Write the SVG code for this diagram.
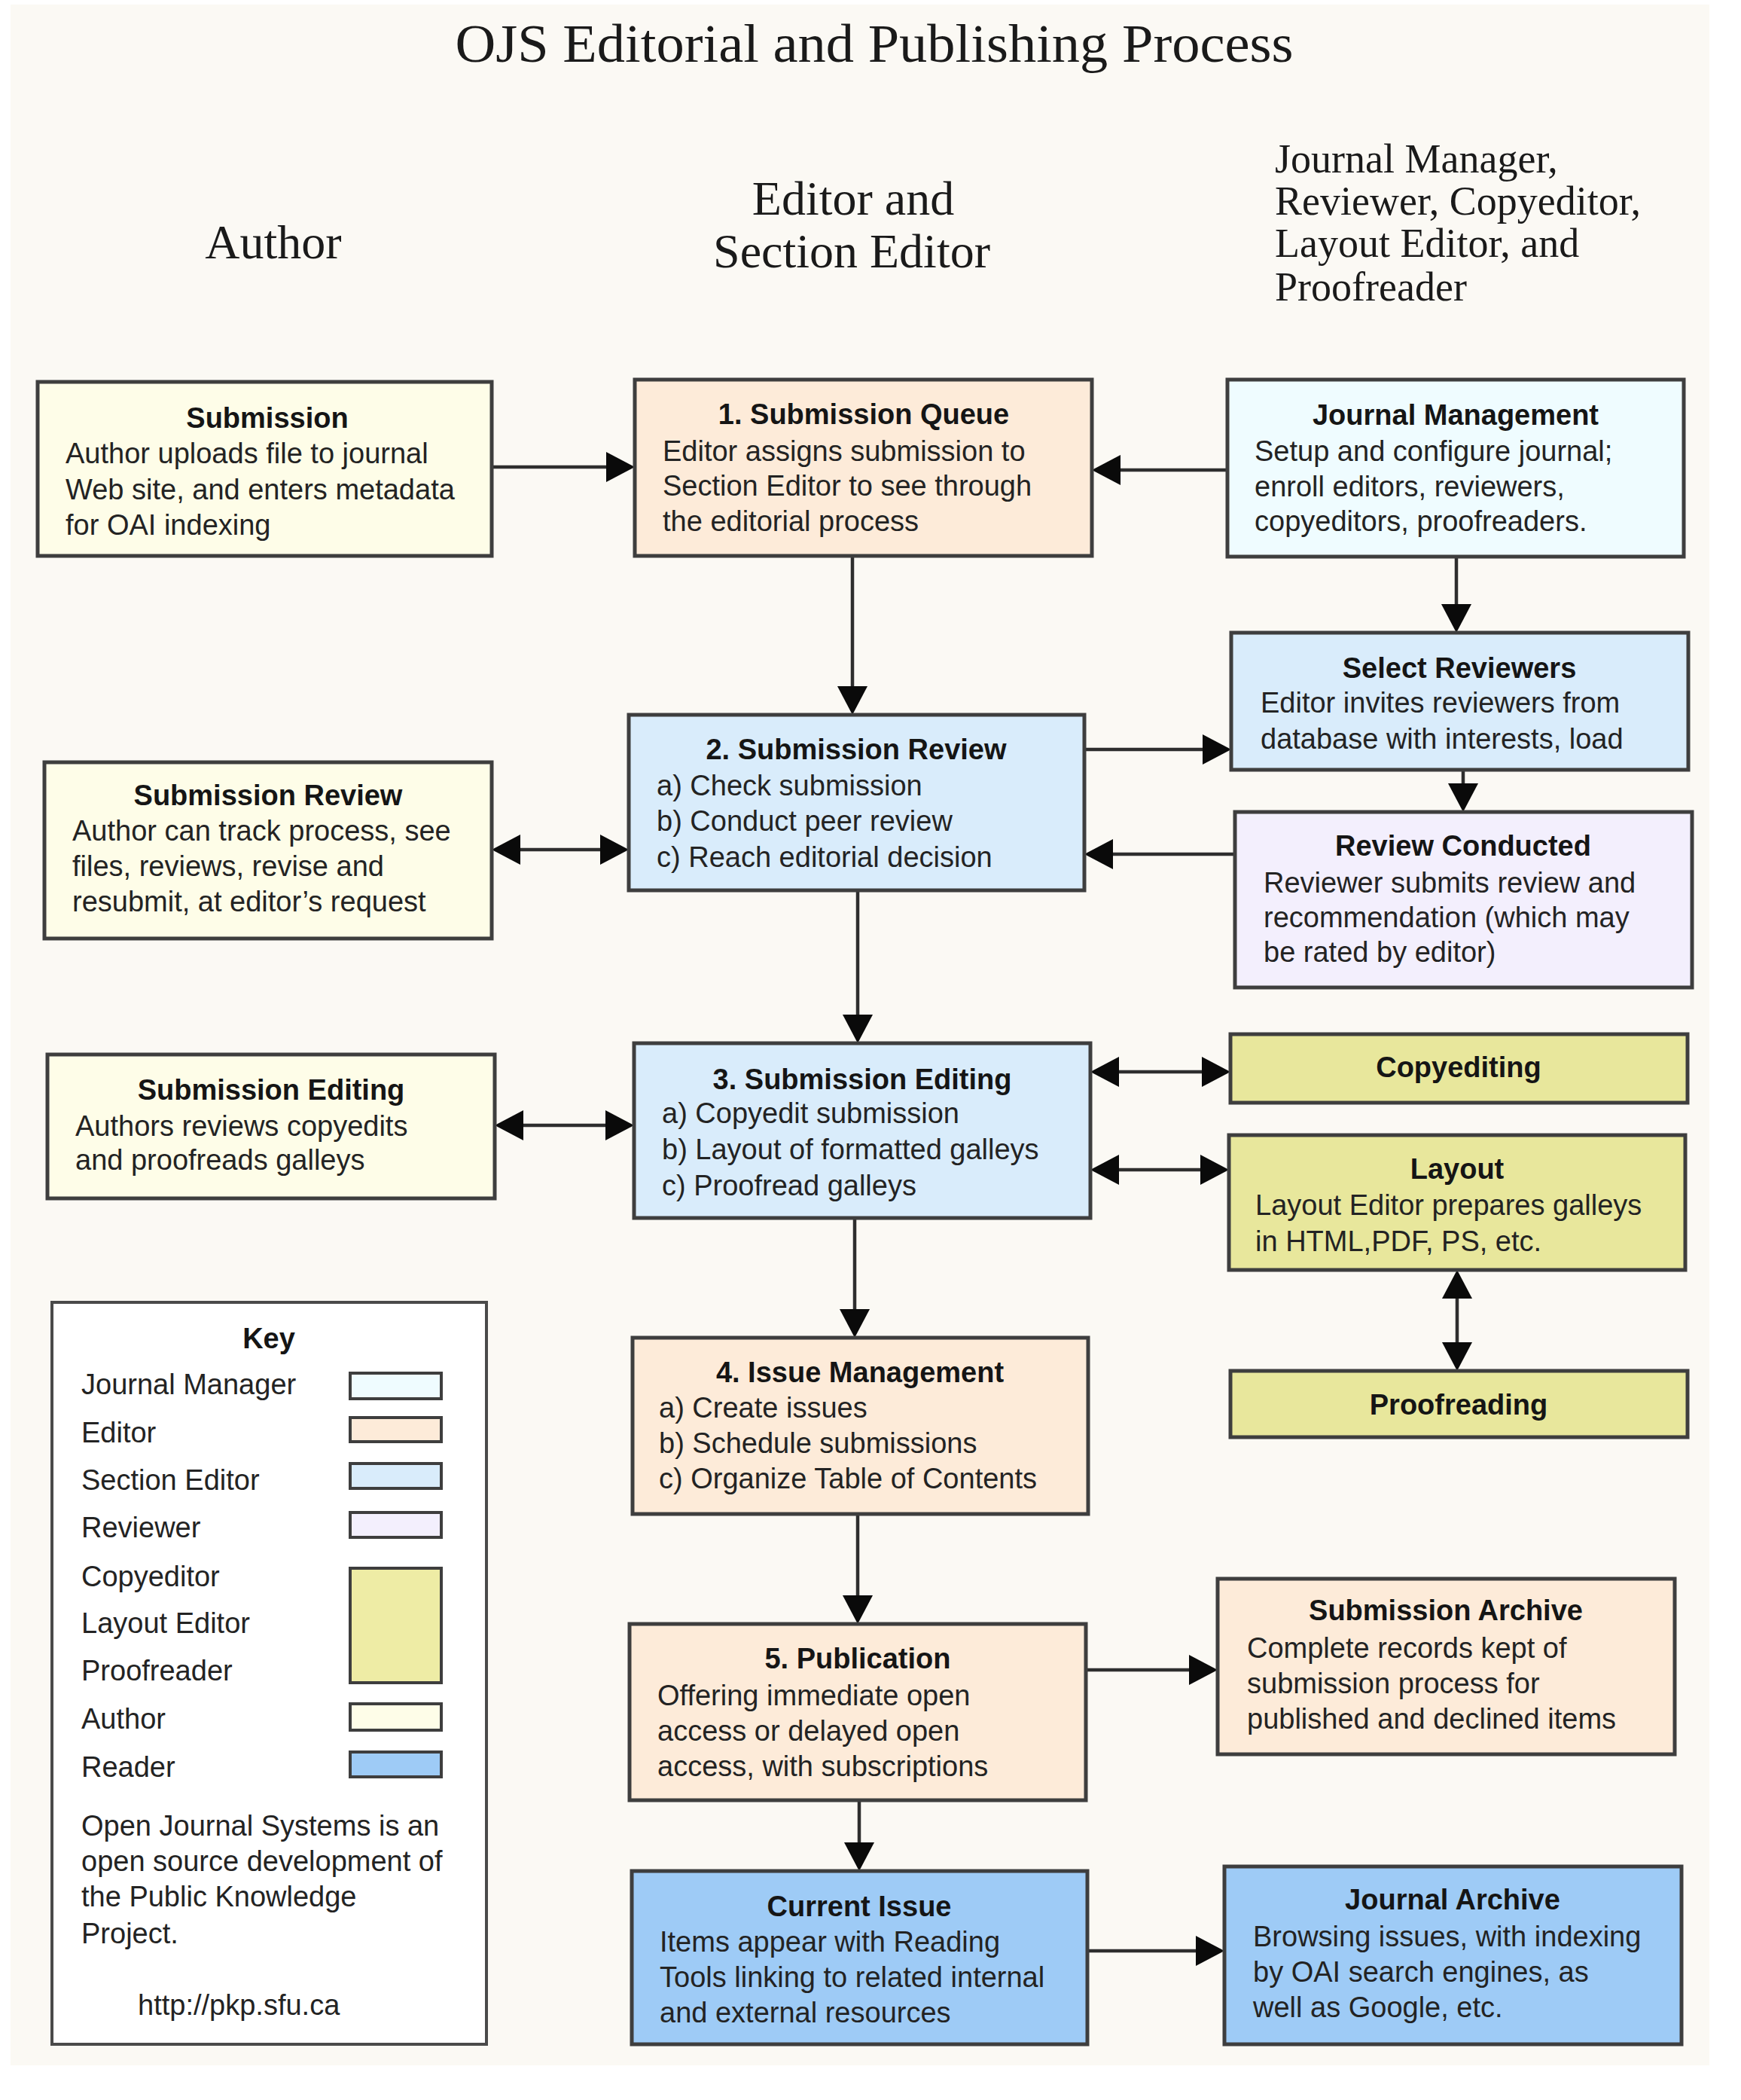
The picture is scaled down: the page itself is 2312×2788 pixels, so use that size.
<svg xmlns="http://www.w3.org/2000/svg" width="2312" height="2788" viewBox="0 0 2312 2788">
<defs>
<style>
.bx{stroke:#3e3e3e;stroke-width:5}
.au{fill:#fefde8}
.ed{fill:#fdebd9}
.jm{fill:#effcff}
.se{fill:#d9ecfb}
.rv{fill:#f3effd}
.cy{fill:#e8e79c}
.rd{fill:#9ecbf6}
text{font-family:"Liberation Sans",Arial,sans-serif;font-size:38px;fill:#232323}
.t{font-weight:bold;text-anchor:middle;fill:#151515}
text.h{font-family:"Liberation Serif","Times New Roman",serif;fill:#1a1a1a}
text.h1{font-size:72px}
text.h2{font-size:64px}
text.h3{font-size:54px}
.sw{stroke:#3e3e3e;stroke-width:4}
.cn line{stroke:#2e2e2e;stroke-width:4.5}
.one{marker-end:url(#ah)}
.two{marker-end:url(#ah);marker-start:url(#ah)}
</style>
<marker id="ah" markerUnits="userSpaceOnUse" markerWidth="38" markerHeight="40" viewBox="0 0 38 40" refX="28" refY="20" orient="auto-start-reverse">
<path d="M0,0 L38,20 L0,40 z" fill="#0a0a0a"/>
</marker>
</defs>
<rect x="0" y="0" width="2312" height="2788" fill="#ffffff"/>
<rect x="14" y="6" width="2256" height="2736" fill="#fbf9f4"/>

<g id="headers">
<text class="h h1" x="1161" y="82" text-anchor="middle" textLength="1113" lengthAdjust="spacingAndGlyphs">OJS Editorial and Publishing Process</text>
<text class="h h2" x="363" y="343" text-anchor="middle">Author</text>
<text class="h h2" x="1133" y="285" text-anchor="middle">Editor and</text>
<text class="h h2" x="1131" y="355" text-anchor="middle">Section Editor</text>
<text class="h h3" x="1693" y="229">Journal Manager,</text>
<text class="h h3" x="1693" y="285">Reviewer, Copyeditor,</text>
<text class="h h3" x="1693" y="341">Layout Editor, and</text>
<text class="h h3" x="1693" y="399">Proofreader</text>
</g>

<g class="cn" id="connectors">
<line class="one" x1="653" y1="620" x2="833" y2="620"/>
<line class="one" x1="1630" y1="624" x2="1460" y2="624"/>
<line class="one" x1="1132" y1="738" x2="1132" y2="939"/>
<line class="one" x1="1934" y1="739" x2="1934" y2="830"/>
<line class="one" x1="1440" y1="995" x2="1625" y2="995"/>
<line class="one" x1="1943" y1="1022" x2="1943" y2="1068"/>
<line class="one" x1="1640" y1="1134" x2="1450" y2="1134"/>
<line class="two" x1="663" y1="1128" x2="825" y2="1128"/>
<line class="one" x1="1139" y1="1182" x2="1139" y2="1375"/>
<line class="two" x1="667" y1="1494" x2="832" y2="1494"/>
<line class="two" x1="1458" y1="1423" x2="1624" y2="1423"/>
<line class="two" x1="1458" y1="1553" x2="1622" y2="1553"/>
<line class="two" x1="1935" y1="1696" x2="1935" y2="1810"/>
<line class="one" x1="1135" y1="1617" x2="1135" y2="1766"/>
<line class="one" x1="1139" y1="2010" x2="1139" y2="2146"/>
<line class="one" x1="1442" y1="2217" x2="1607" y2="2217"/>
<line class="one" x1="1141" y1="2390" x2="1141" y2="2474"/>
<line class="one" x1="1444" y1="2590" x2="1616" y2="2590"/>
</g>

<g id="submission">
<rect class="bx au" x="50" y="507" width="603" height="231"/>
<text class="t" x="355" y="568">Submission</text>
<text x="87" y="615">Author uploads file to journal</text>
<text x="87" y="663">Web site, and enters metadata</text>
<text x="87" y="710">for OAI indexing</text>
</g>

<g id="submission-queue">
<rect class="bx ed" x="843" y="504" width="607" height="234"/>
<text class="t" x="1147" y="563">1. Submission Queue</text>
<text x="880" y="612">Editor assigns submission to</text>
<text x="880" y="658">Section Editor to see through</text>
<text x="880" y="705">the editorial process</text>
</g>

<g id="journal-management">
<rect class="bx jm" x="1630" y="504" width="606" height="235"/>
<text class="t" x="1933" y="564">Journal Management</text>
<text x="1666" y="612">Setup and configure journal;</text>
<text x="1666" y="659">enroll editors, reviewers,</text>
<text x="1666" y="705">copyeditors, proofreaders.</text>
</g>

<g id="select-reviewers">
<rect class="bx se" x="1635" y="840" width="607" height="182"/>
<text class="t" x="1938" y="900">Select Reviewers</text>
<text x="1674" y="946">Editor invites reviewers from</text>
<text x="1674" y="994">database with interests, load</text>
</g>

<g id="submission-review">
<rect class="bx se" x="835" y="949" width="605" height="233"/>
<text class="t" x="1137" y="1008">2. Submission Review</text>
<text x="872" y="1056">a) Check submission</text>
<text x="872" y="1103">b) Conduct peer review</text>
<text x="872" y="1151">c) Reach editorial decision</text>
</g>

<g id="author-submission-review">
<rect class="bx au" x="59" y="1012" width="594" height="234"/>
<text class="t" x="356" y="1069">Submission Review</text>
<text x="96" y="1116">Author can track process, see</text>
<text x="96" y="1163">files, reviews, revise and</text>
<text x="96" y="1210">resubmit, at editor’s request</text>
</g>

<g id="review-conducted">
<rect class="bx rv" x="1640" y="1078" width="607" height="233"/>
<text class="t" x="1943" y="1136">Review Conducted</text>
<text x="1678" y="1185">Reviewer submits review and</text>
<text x="1678" y="1231">recommendation (which may</text>
<text x="1678" y="1277">be rated by editor)</text>
</g>

<g id="submission-editing">
<rect class="bx se" x="842" y="1385" width="606" height="232"/>
<text class="t" x="1145" y="1446">3. Submission Editing</text>
<text x="879" y="1491">a) Copyedit submission</text>
<text x="879" y="1539">b) Layout of formatted galleys</text>
<text x="879" y="1587">c) Proofread galleys</text>
</g>

<g id="author-submission-editing">
<rect class="bx au" x="63" y="1400" width="594" height="191"/>
<text class="t" x="360" y="1460">Submission Editing</text>
<text x="100" y="1508">Authors reviews copyedits</text>
<text x="100" y="1553">and proofreads galleys</text>
</g>

<g id="copyediting">
<rect class="bx cy" x="1634" y="1373" width="607" height="91"/>
<text class="t" x="1937" y="1430">Copyediting</text>
</g>

<g id="layout">
<rect class="bx cy" x="1632" y="1507" width="606" height="179"/>
<text class="t" x="1935" y="1565">Layout</text>
<text x="1667" y="1613">Layout Editor prepares galleys</text>
<text x="1667" y="1661">in HTML,PDF, PS, etc.</text>
</g>

<g id="proofreading">
<rect class="bx cy" x="1634" y="1820" width="607" height="88"/>
<text class="t" x="1937" y="1878">Proofreading</text>
</g>

<g id="issue-management">
<rect class="bx ed" x="840" y="1776" width="605" height="234"/>
<text class="t" x="1142" y="1835">4. Issue Management</text>
<text x="875" y="1882">a) Create issues</text>
<text x="875" y="1929">b) Schedule submissions</text>
<text x="875" y="1976">c) Organize Table of Contents</text>
</g>

<g id="publication">
<rect class="bx ed" x="836" y="2156" width="606" height="234"/>
<text class="t" x="1139" y="2215">5. Publication</text>
<text x="873" y="2264">Offering immediate open</text>
<text x="873" y="2311">access or delayed open</text>
<text x="873" y="2358">access, with subscriptions</text>
</g>

<g id="submission-archive">
<rect class="bx ed" x="1617" y="2096" width="607" height="233"/>
<text class="t" x="1920" y="2151">Submission Archive</text>
<text x="1656" y="2201">Complete records kept of</text>
<text x="1656" y="2248">submission process for</text>
<text x="1656" y="2295">published and declined items</text>
</g>

<g id="current-issue">
<rect class="bx rd" x="839" y="2484" width="605" height="230"/>
<text class="t" x="1141" y="2544">Current Issue</text>
<text x="876" y="2591">Items appear with Reading</text>
<text x="876" y="2638">Tools linking to related internal</text>
<text x="876" y="2685">and external resources</text>
</g>

<g id="journal-archive">
<rect class="bx rd" x="1626" y="2478" width="607" height="236"/>
<text class="t" x="1929" y="2535">Journal Archive</text>
<text x="1664" y="2584">Browsing issues, with indexing</text>
<text x="1664" y="2631">by OAI search engines, as</text>
<text x="1664" y="2678">well as Google, etc.</text>
</g>

<g id="key">
<rect x="69" y="1729" width="577" height="985" fill="#ffffff" stroke="#4a4a4a" stroke-width="4"/>
<text class="t" x="357" y="1790">Key</text>
<text x="108" y="1851">Journal Manager</text>
<text x="108" y="1915">Editor</text>
<text x="108" y="1978">Section Editor</text>
<text x="108" y="2041">Reviewer</text>
<text x="108" y="2106">Copyeditor</text>
<text x="108" y="2168">Layout Editor</text>
<text x="108" y="2231">Proofreader</text>
<text x="108" y="2295">Author</text>
<text x="108" y="2359">Reader</text>
<rect class="sw jm" x="465" y="1823" width="121" height="34"/>
<rect class="sw ed" x="465" y="1882" width="121" height="32"/>
<rect class="sw se" x="465" y="1943" width="121" height="33"/>
<rect class="sw rv" x="465" y="2008" width="121" height="33"/>
<rect class="sw" x="465" y="2082" width="121" height="152" fill="#eeeca5"/>
<rect class="sw au" x="465" y="2262" width="121" height="35"/>
<rect class="sw rd" x="465" y="2326" width="121" height="33"/>
<text x="108" y="2437">Open Journal Systems is an</text>
<text x="108" y="2484">open source development of</text>
<text x="108" y="2531">the Public Knowledge</text>
<text x="108" y="2580">Project.</text>
<text x="183" y="2675">http://pkp.sfu.ca</text>
</g>
</svg>
